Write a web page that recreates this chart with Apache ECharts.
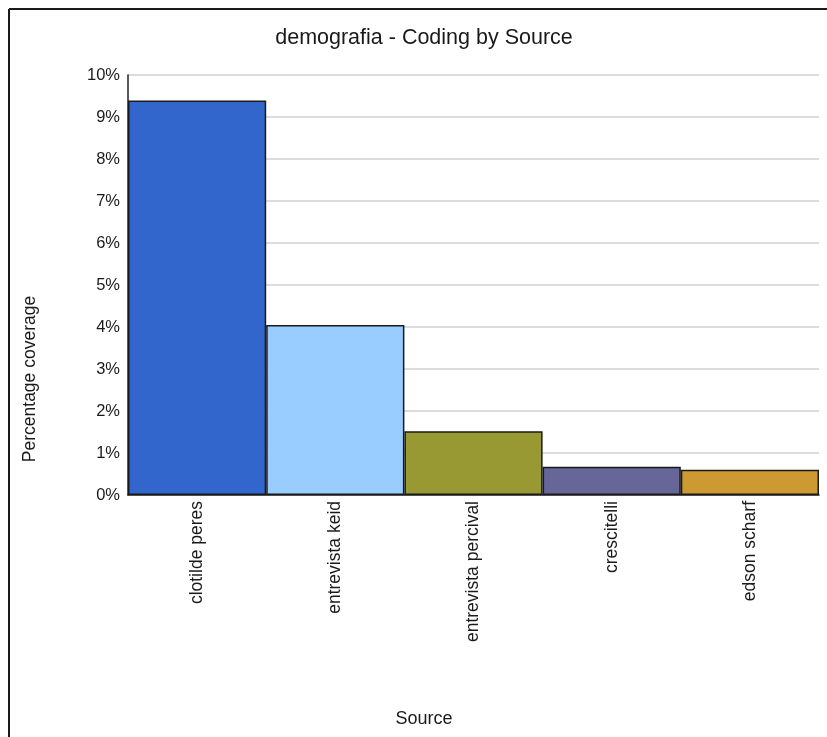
<!DOCTYPE html>
<html>
<head>
<meta charset="utf-8">
<script src="https://cdn.jsdelivr.net/npm/echarts@6/dist/echarts.min.js"></script>
<style>
  html, body { margin: 0; padding: 0; background: #fff; }
  #chart { width: 827px; height: 737px; }
</style>
</head>
<body>
<div id="chart"></div>
<script>
// Coverage of the "demografia" code, per source (percent of each source's text)
const categories = ['clotilde peres', 'entrevista keid', 'entrevista percival', 'crescitelli', 'edson scharf'];
const coverage = [9.39, 4.05, 1.52, 0.67, 0.6];
const yTicks = [0, 1, 2, 3, 4, 5, 6, 7, 8, 9, 10];

const palette = ['#3366CC', '#99CCFF', '#999933', '#666699', '#CC9933'];
const FONT = '"Liberation Sans", Arial, sans-serif';
const INK = '#1a1a1a';

const chart = echarts.init(document.getElementById('chart'), null, { renderer: 'canvas' });

chart.setOption({
  animation: false,
  backgroundColor: '#ffffff',
  title: {
    text: 'demografia - Coding by Source',
    left: 419,
    top: 22,
    textAlign: 'center',
    textStyle: { fontFamily: FONT, fontSize: 21.5, fontWeight: 'normal', color: INK }
  },
  grid: { left: 128, right: 8, top: 75, bottom: 242, containLabel: false },
  xAxis: {
    type: 'category',
    data: categories,
    boundaryGap: true,
    axisLine: { show: true, lineStyle: { color: '#222', width: 1.5 } },
    axisTick: { show: false },
    axisLabel: {
      interval: 0,
      rotate: 90,
      margin: 6,
      fontFamily: FONT,
      fontSize: 17.5,
      color: INK
    },
    splitLine: { show: false }
  },
  yAxis: {
    type: 'value',
    min: yTicks[0],
    max: yTicks[yTicks.length - 1],
    interval: 1,
    axisLine: { show: true, lineStyle: { color: '#222', width: 1.5 } },
    axisTick: { show: false },
    axisLabel: {
      margin: 8,
      fontFamily: FONT,
      fontSize: 16.5,
      color: INK,
      formatter: v => v + '%'
    },
    splitLine: { show: true, lineStyle: { color: '#dcdcdc', width: 2 } }
  },
  series: [{
    type: 'bar',
    barCategoryGap: 0,
    data: coverage.map((v, i) => ({
      value: v,
      itemStyle: { color: palette[i] }
    })),
    itemStyle: { borderColor: '#1a1a1a', borderWidth: 1.5 },
    z: 3
  }],
  graphic: [
    // frame lines on the left and top edges
    { type: 'line', shape: { x1: 9, y1: 9, x2: 827, y2: 9 }, style: { stroke: '#1a1a1a', lineWidth: 2 }, z: 10 },
    { type: 'line', shape: { x1: 9, y1: 9, x2: 9, y2: 737 }, style: { stroke: '#1a1a1a', lineWidth: 2 }, z: 10 },
    {
      type: 'text',
      x: 30,
      y: 379,
      rotation: Math.PI / 2,
      style: {
        text: 'Percentage coverage',
        fontFamily: FONT,
        fontSize: 17.5,
        fill: INK,
        align: 'center',
        verticalAlign: 'middle'
      }
    },
    {
      type: 'text',
      x: 424,
      y: 719,
      style: {
        text: 'Source',
        fontFamily: FONT,
        fontSize: 18,
        fill: INK,
        align: 'center',
        verticalAlign: 'middle'
      }
    }
  ]
});
</script>
</body>
</html>
